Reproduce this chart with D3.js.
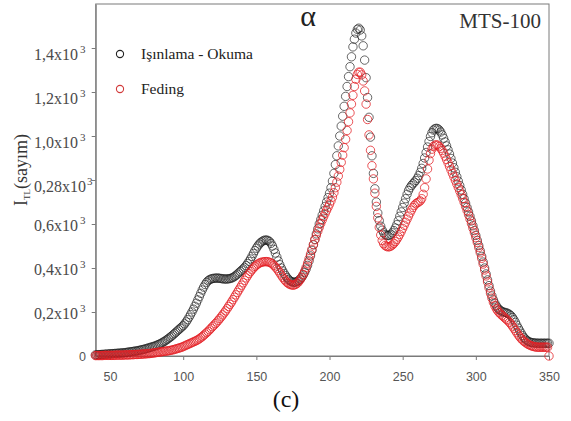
<!DOCTYPE html>
<html><head><meta charset="utf-8">
<script src="https://cdn.jsdelivr.net/npm/d3@7/dist/d3.min.js"></script>
<style>
html,body{margin:0;padding:0;background:#fff;}
svg{display:block;}
</style></head>
<body>
<script>
// ---- data (counts), 1 °C steps from 40 to 350 ----
const tStart = 40, tEnd = 350;
const irradiationRead = [ // Işınlama - Okuma
  5,5,6,6,7,7,8,8,9,9,
  10,10,11,11,12,12,13,13,14,14,
  15,16,17,18,19,20,21,22,23,24,
  26,27,29,30,32,34,36,38,40,42,
  44,46,49,52,55,58,62,66,70,75,
  80,85,90,96,102,108,114,120,126,132,
  138,146,155,165,176,188,200,213,226,240,
  255,270,285,300,313,325,335,342,347,350,
  352,353,354,354,354,353,352,351,350,350,
  350,351,352,354,357,361,366,372,378,384,
  390,396,403,411,420,430,441,453,466,479,
  490,500,509,516,521,525,527,527,525,520,
  512,500,485,468,450,432,415,400,387,375,
  365,356,348,342,338,336,335,336,339,344,
  350,358,368,380,395,412,432,455,480,505,
  530,555,578,600,620,640,660,680,700,720,
  740,765,795,830,870,910,955,1000,1045,1090,
  1135,1180,1225,1270,1315,1360,1405,1440,1468,1485,
  1490,1482,1455,1410,1345,1265,1175,1085,995,910,
  830,760,700,650,615,590,572,560,552,548,
  547,549,553,560,570,582,597,615,635,655,
  675,695,715,735,752,765,775,783,790,798,
  808,820,835,853,875,900,925,950,975,998,
  1015,1027,1033,1035,1033,1027,1018,1005,990,973,
  955,937,918,898,877,856,835,815,795,775,
  755,735,715,695,675,655,635,614,592,570,
  548,525,502,478,453,427,400,373,346,320,
  295,273,255,240,228,218,211,206,202,199,
  198,196,193,189,183,175,165,153,140,127,
  115,103,92,83,76,70,66,63,61,60,
  59,59,58,58,58,58,58,58,58,58,
  58
];
const fading = [ // Feding
  2,2,2,2,2,2,3,3,3,3,
  3,3,3,3,4,4,4,4,4,4,
  5,5,5,5,6,6,6,7,7,7,
  8,8,9,9,10,10,11,11,12,13,
  14,15,16,17,18,19,20,21,22,23,
  24,25,27,28,30,32,34,36,38,40,
  43,46,49,52,55,58,61,64,67,70,
  74,78,83,88,94,100,106,112,119,126,
  133,140,147,154,162,170,178,187,196,205,
  215,225,235,245,256,267,278,289,300,311,
  322,333,344,355,365,375,384,392,400,407,
  413,418,422,425,427,428,429,429,428,426,
  423,418,412,405,397,388,378,368,358,349,
  341,334,329,325,323,322,323,326,331,338,
  347,358,371,386,403,422,442,463,485,507,
  528,548,567,585,602,618,633,648,662,676,
  690,705,722,742,765,790,818,848,880,913,
  947,985,1025,1065,1105,1145,1185,1225,1258,1280,
  1290,1290,1278,1250,1205,1145,1075,1005,935,865,
  805,740,680,628,585,550,525,510,502,498,
  496,497,500,505,512,520,530,541,553,566,
  580,594,608,622,636,650,663,675,685,692,
  697,700,705,715,735,765,805,850,890,920,
  940,952,958,960,958,952,944,934,922,908,
  893,878,862,846,830,814,798,782,766,750,
  733,716,698,680,661,642,622,602,581,560,
  538,516,493,469,444,418,391,364,337,310,
  285,263,244,228,215,205,197,190,184,178,
  172,166,160,153,145,136,126,116,106,96,
  87,79,72,66,61,56,52,49,46,44,
  42,41,40,40,40,40,40,40,40,40,
  0
];
const temps = d3.range(tStart, tEnd + 1);
const xTicks = [50, 100, 150, 200, 250, 300, 350];
const yTicks = [200, 400, 600, 800, 1000, 1200, 1400];
const yTickLabels = ["0,2x10", "0,4x10", "0,6x10", "0,28x10", "1,0x10", "1,2x10", "1,4x10"];
const seriesNames = ["Işınlama - Okuma", "Feding"];

// ---- drawing ----
const W = 571, H = 421;
const svg = d3.select("body").append("svg").attr("width", W).attr("height", H);
const x = d3.scaleLinear().domain([40.2, 350]).range([95.7, 549]);
const y = d3.scaleLinear().domain([0, 1600]).range([356, 4]);

const frameColor = "#7a7a7a";
svg.append("rect").attr("x", x.range()[0]).attr("y", y(1600))
  .attr("width", x.range()[1] - x.range()[0]).attr("height", y(0) - y(1600))
  .attr("fill", "none").attr("stroke", frameColor).attr("stroke-width", 1);

const gx = svg.append("g").attr("transform", `translate(0,${y(0)})`)
  .call(d3.axisBottom(x).tickValues(xTicks).tickSize(4).tickSizeOuter(0).tickPadding(12));
gx.select(".domain").attr("stroke", frameColor);
gx.selectAll(".tick line").attr("stroke", frameColor);
gx.selectAll(".tick text").attr("fill", "#555")
  .style("font-family", "'Liberation Sans', Arial, sans-serif").style("font-size", "12.5px");

const gy = svg.append("g").attr("transform", `translate(${x.range()[0]},0)`)
  .call(d3.axisLeft(y).tickValues(yTicks).tickSize(4).tickSizeOuter(0).tickFormat(""));
gy.select(".domain").attr("stroke", frameColor);
gy.selectAll(".tick line").attr("stroke", frameColor);

// y tick labels (serif, with superscript 3)
const yl = svg.append("g").style("font-family", "'Liberation Serif', 'Times New Roman', serif").attr("fill", "#4a4a4a");
yTicks.forEach((v, i) => {
  const cy = y(v) + (v >= 800 ? 6 : 1);
  const t = yl.append("text").attr("x", 34).attr("y", cy + 5.5).style("font-size", "16px").text(yTickLabels[i]);
  const end = 34 + t.node().getComputedTextLength();
  yl.append("text").attr("x", Math.max(80, end + 1)).attr("y", cy - 1.5).style("font-size", "11px").text("3");
});
svg.append("text").attr("x", 86).attr("y", y(0) + 4.5).attr("text-anchor", "end")
  .attr("fill", "#555").style("font-family", "'Liberation Sans', Arial, sans-serif")
  .style("font-size", "12.5px").text("0");

// y-axis title
const yt = svg.append("text").attr("transform", "translate(27,206) rotate(-90)")
  .attr("fill", "#333").style("font-family", "'Liberation Serif', 'Times New Roman', serif").style("font-size", "18px");
yt.append("tspan").text("I");
yt.append("tspan").attr("dy", 3).style("font-size", "9px").text("TL");
yt.append("tspan").attr("dy", -3).text("(sayım)");

// series
const series = [
  { name: seriesNames[0], values: irradiationRead, color: "rgba(30,30,30,0.75)" },
  { name: seriesNames[1], values: fading, color: "rgba(228,30,36,0.85)" }
];
series.forEach(s => {
  svg.append("g").selectAll("circle").data(temps.map((t, i) => [t, s.values[i]]))
    .join("circle")
    .attr("cx", d => x(d[0])).attr("cy", d => y(d[1])).attr("r", 4.2)
    .attr("fill", "none").attr("stroke", s.color).attr("stroke-width", 0.9);
});

// legend
const lg = svg.append("g");
series.forEach((s, i) => {
  const ly = 54 + i * 35;
  lg.append("circle").attr("cx", 120).attr("cy", ly).attr("r", 3.6)
    .attr("fill", "none").attr("stroke", i === 0 ? "#222" : "#d23a3a").attr("stroke-width", 1.1);
  lg.append("text").attr("x", 141).attr("y", ly + 5).attr("fill", "#222")
    .style("font-family", "'Liberation Serif', 'Times New Roman', serif").style("font-size", "15.5px")
    .text(s.name);
});

// titles
svg.append("text").attr("x", 308).attr("y", 26).attr("text-anchor", "middle").attr("fill", "#222")
  .style("font-family", "'Liberation Serif', 'Times New Roman', serif").style("font-size", "30px").text("α");
svg.append("text").attr("x", 541).attr("y", 28).attr("text-anchor", "end").attr("fill", "#333")
  .style("font-family", "'Liberation Serif', 'Times New Roman', serif").style("font-size", "21px").text("MTS-100");
svg.append("text").attr("x", 286).attr("y", 407).attr("text-anchor", "middle").attr("fill", "#111")
  .style("font-family", "'Liberation Serif', 'Times New Roman', serif").style("font-size", "24px").text("(c)");
</script>
</body></html>
